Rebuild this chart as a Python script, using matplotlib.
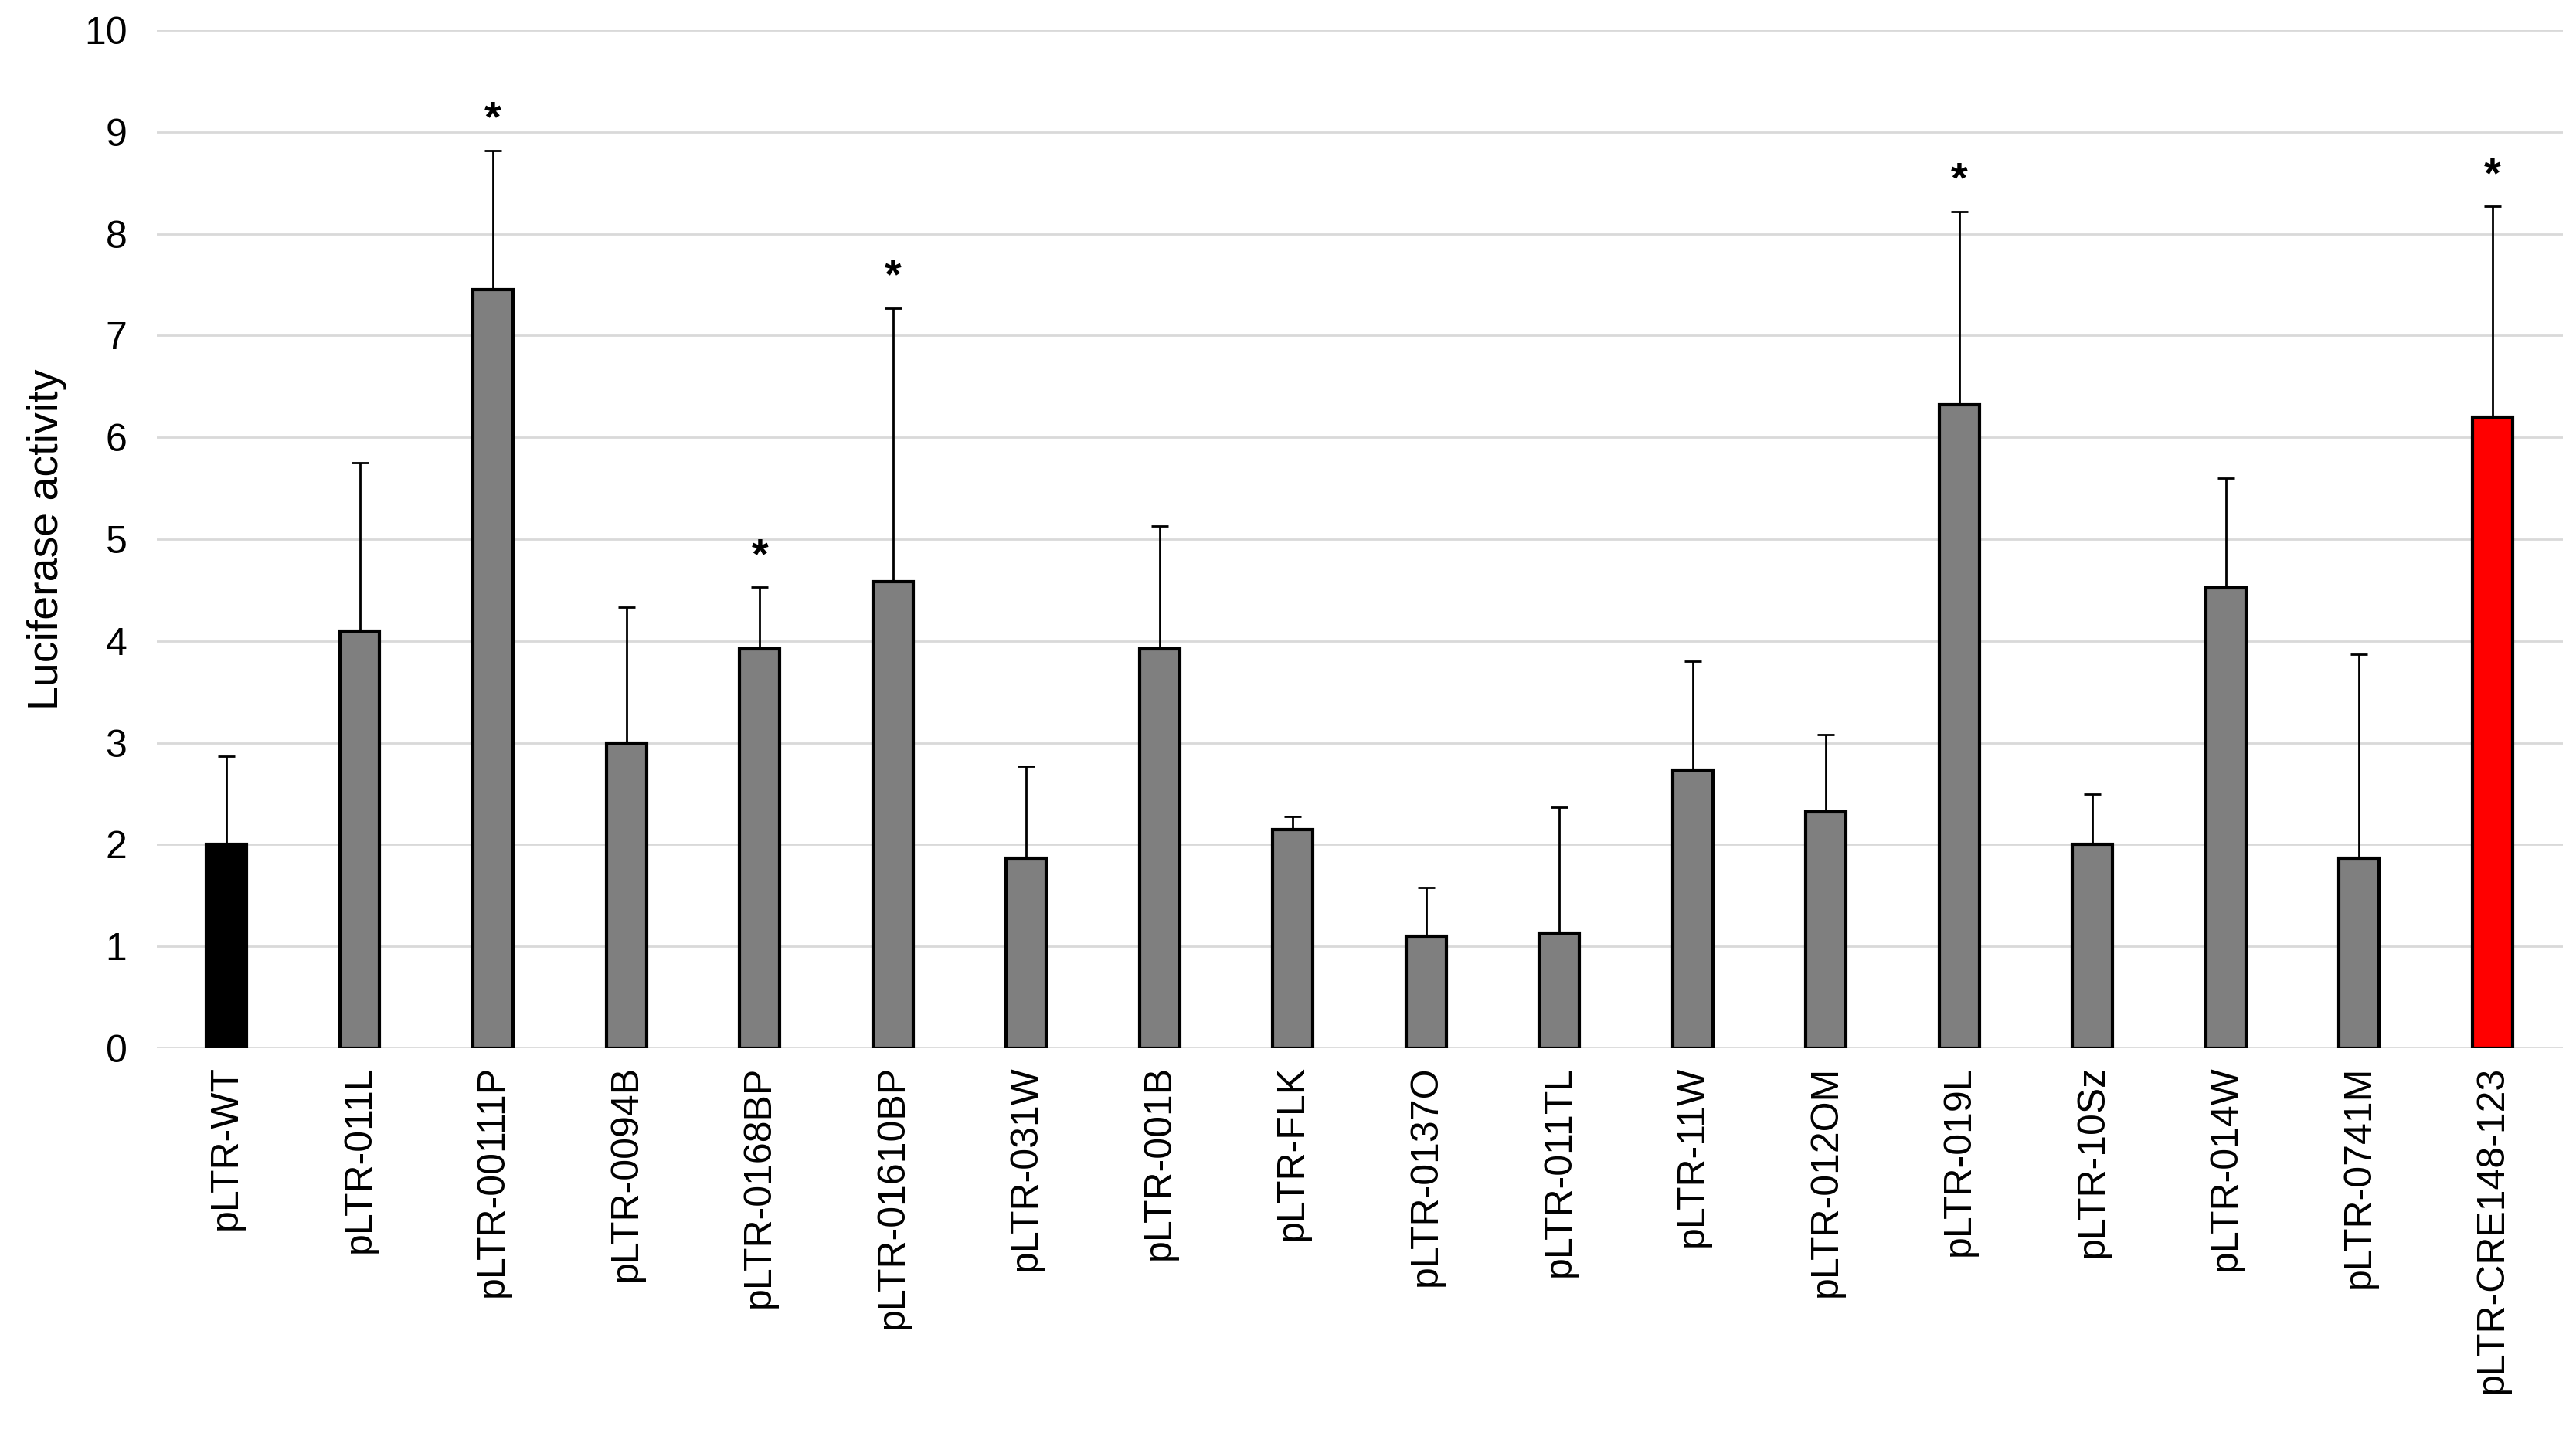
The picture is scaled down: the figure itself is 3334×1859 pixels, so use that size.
import matplotlib
matplotlib.use('Agg')
import matplotlib.pyplot as plt
import numpy as np

plt.rcParams['font.family'] = ['Liberation Sans', 'DejaVu Sans']

labels = ['pLTR-WT', 'pLTR-011L', 'pLTR-00111P', 'pLTR-0094B', 'pLTR-0168BP',
          'pLTR-01610BP', 'pLTR-031W', 'pLTR-001B', 'pLTR-FLK', 'pLTR-0137O',
          'pLTR-011TL', 'pLTR-11W', 'pLTR-012OM', 'pLTR-019L', 'pLTR-10Sz',
          'pLTR-014W', 'pLTR-0741M', 'pLTR-CRE148-123']
values = [2.0, 4.1, 7.45, 3.0, 3.92, 4.58, 1.87, 3.92, 2.15, 1.1,
          1.13, 2.73, 2.32, 6.32, 2.0, 4.52, 1.87, 6.2]
err_top = [2.87, 5.75, 8.82, 4.33, 4.53, 7.27, 2.77, 5.13, 2.28, 1.58,
           2.37, 3.8, 3.08, 8.22, 2.5, 5.6, 3.87, 8.27]
significant = [False, False, True, False, True, True, False, False, False, False,
               False, False, False, True, False, False, False, True]

errors = np.array(err_top) - np.array(values)
colors = ['#000000'] + ['#7f7f7f'] * 16 + ['#ff0000']
x = np.arange(len(labels))

fig = plt.figure(figsize=(16.67, 9.295), dpi=200)
ax = fig.add_axes([0.061, 0.27, 0.934, 0.709])
ax.bar(x, values, width=0.3, color=colors, edgecolor='black', linewidth=1.5, zorder=3)
ax.errorbar(x, values, yerr=[np.zeros_like(errors), errors], fmt='none',
            ecolor='black', elinewidth=1.0, capsize=4, capthick=1.0, zorder=2)
for xi, top, sig in zip(x, err_top, significant):
    if sig:
        ax.text(xi, top + 0.1, '*', ha='center', va='bottom', fontsize=20, fontweight='bold')

ax.set_ylim(0, 10)
ax.set_xlim(-0.52, len(labels) - 0.47)
ax.set_yticks(range(11))
ax.yaxis.grid(True, color='#d9d9d9', linewidth=1.0, zorder=0)
ax.set_axisbelow(True)
for s in ['top', 'right', 'left', 'bottom']:
    ax.spines[s].set_visible(False)
ax.tick_params(axis='both', length=0, labelsize=18)
ax.tick_params(axis='y', pad=14)
ax.tick_params(axis='x', pad=8)
ax.set_xticks(x)
ax.set_xticklabels(labels, rotation=90)
ax.set_ylabel('Luciferase activity', fontsize=20, labelpad=8)

fig.savefig('out.png', dpi=200)
